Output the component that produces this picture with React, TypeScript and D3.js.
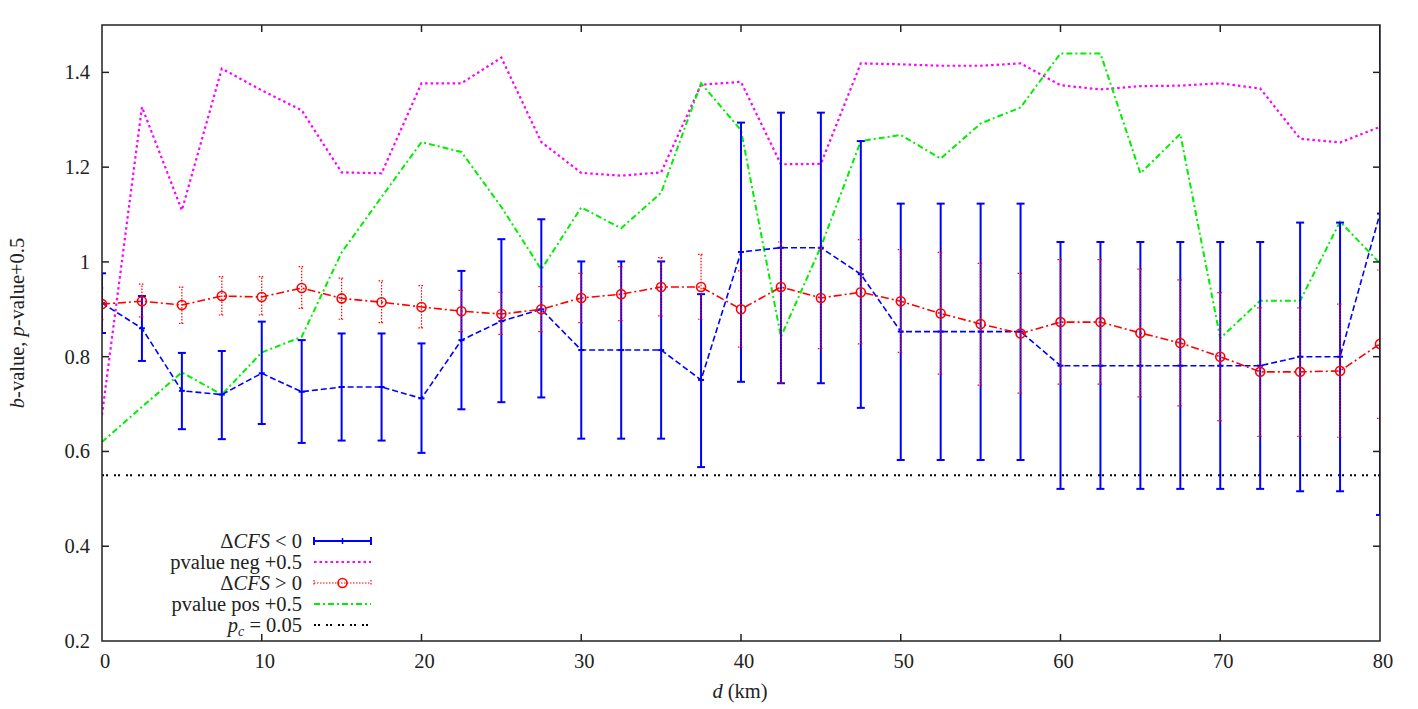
import { useEffect, useRef } from 'react';
import * as d3 from 'd3';

const W = 1418;
const H = 709;

// distance (km), one point every 2.5 km
const dist = d3.range(0, 80.01, 2.5);

// ΔCFS < 0 : b-value with lower / upper error
const negB = [0.913, 0.86, 0.728, 0.72, 0.765, 0.726, 0.736, 0.736, 0.712, 0.835, 0.875, 0.9, 0.814, 0.814, 0.814, 0.751, 1.021, 1.03, 1.03, 0.974, 0.853, 0.853, 0.853, 0.853, 0.781, 0.781, 0.781, 0.781, 0.781, 0.781, 0.8, 0.8, 1.102];
const negLo = [0.85, 0.791, 0.647, 0.626, 0.658, 0.618, 0.623, 0.623, 0.597, 0.689, 0.704, 0.714, 0.627, 0.627, 0.627, 0.567, 0.747, 0.744, 0.744, 0.692, 0.582, 0.582, 0.582, 0.582, 0.521, 0.521, 0.521, 0.521, 0.521, 0.521, 0.516, 0.516, 0.466];
const negHi = [0.976, 0.928, 0.808, 0.812, 0.874, 0.835, 0.849, 0.849, 0.828, 0.981, 1.048, 1.09, 1.001, 1.001, 1.001, 0.932, 1.294, 1.315, 1.315, 1.255, 1.123, 1.123, 1.123, 1.123, 1.042, 1.042, 1.042, 1.042, 1.042, 1.042, 1.083, 1.083, 1.738];

// ΔCFS > 0
const posB = [0.911, 0.917, 0.909, 0.928, 0.926, 0.945, 0.923, 0.915, 0.905, 0.896, 0.89, 0.9, 0.924, 0.932, 0.947, 0.947, 0.9, 0.947, 0.924, 0.936, 0.917, 0.891, 0.869, 0.849, 0.873, 0.873, 0.85, 0.829, 0.8, 0.768, 0.768, 0.77, 0.827];
const posLo = [0.878, 0.884, 0.87, 0.888, 0.888, 0.902, 0.879, 0.872, 0.861, 0.853, 0.847, 0.853, 0.872, 0.876, 0.886, 0.879, 0.82, 0.744, 0.817, 0.827, 0.809, 0.763, 0.74, 0.723, 0.742, 0.742, 0.715, 0.696, 0.665, 0.632, 0.632, 0.63, 0.67];
const posHi = [0.945, 0.953, 0.947, 0.969, 0.969, 0.99, 0.966, 0.96, 0.95, 0.94, 0.936, 0.948, 0.976, 0.99, 1.009, 1.016, 0.981, 1.042, 1.03, 1.047, 1.026, 1.02, 0.997, 0.976, 1.005, 1.005, 0.985, 0.962, 0.935, 0.903, 0.903, 0.911, 0.983];

// p-values shifted by +0.5
const pNeg = [0.677, 1.327, 1.109, 1.408, 1.362, 1.32, 1.189, 1.187, 1.377, 1.377, 1.431, 1.253, 1.188, 1.182, 1.189, 1.374, 1.38, 1.206, 1.207, 1.419, 1.417, 1.414, 1.414, 1.419, 1.373, 1.364, 1.371, 1.372, 1.377, 1.366, 1.26, 1.252, 1.285];
const pPos = [0.62, 0.694, 0.767, 0.72, 0.809, 0.842, 1.02, 1.137, 1.253, 1.232, 1.116, 0.984, 1.115, 1.071, 1.146, 1.377, 1.278, 0.842, 1.032, 1.255, 1.268, 1.218, 1.292, 1.326, 1.44, 1.44, 1.187, 1.27, 0.839, 0.918, 0.918, 1.085, 0.997];

const pCrit = 0.55;

const xTicks = [0, 10, 20, 30, 40, 50, 60, 70, 80];
const yTicks = [0.2, 0.4, 0.6, 0.8, 1, 1.2, 1.4];

const FONT = '"Liberation Serif", "DejaVu Serif", serif';
const FS = 20.5;

export default function App() {
  const ref = useRef<SVGSVGElement>(null);

  useEffect(() => {
    if (!ref.current) return;
    const svg = d3.select(ref.current);
    svg.selectAll('*').remove();

    const m = { left: 102, right: 1380, top: 25, bottom: 641 };
    const x = d3.scaleLinear().domain([0, 80]).range([m.left, m.right]);
    const y = d3.scaleLinear().domain([0.2, 1.5]).range([m.bottom, m.top]);

    svg.append('defs').append('clipPath').attr('id', 'plot')
      .append('rect').attr('x', m.left).attr('y', m.top)
      .attr('width', m.right - m.left).attr('height', m.bottom - m.top);

    const g = svg.append('g').attr('clip-path', 'url(#plot)');
    const idx = d3.range(dist.length);

    // critical p level
    g.append('line')
      .attr('x1', m.left).attr('x2', m.right)
      .attr('y1', y(pCrit)).attr('y2', y(pCrit))
      .attr('stroke', '#000').attr('stroke-width', 2)
      .attr('stroke-dasharray', '2,2,2,6');

    const line = (vals: number[]) =>
      d3.line<number>().x(i => x(dist[i])).y(i => y(vals[i]))(idx) as string;

    // p-value curves
    g.append('path').attr('d', line(pNeg)).attr('fill', 'none')
      .attr('stroke', '#ff00ff').attr('stroke-width', 2.2).attr('stroke-dasharray', '2.5,3');
    g.append('path').attr('d', line(pPos)).attr('fill', 'none')
      .attr('stroke', '#00ee00').attr('stroke-width', 2).attr('stroke-dasharray', '6,3,2,3');

    // blue error bars
    const cap = 4;
    const eb = g.append('g').attr('stroke', '#0000ff').attr('stroke-width', 2);
    idx.forEach(i => {
      const cx = x(dist[i]);
      eb.append('line').attr('x1', cx).attr('x2', cx).attr('y1', y(negLo[i])).attr('y2', y(negHi[i]));
      eb.append('line').attr('x1', cx - cap).attr('x2', cx + cap).attr('y1', y(negLo[i])).attr('y2', y(negLo[i]));
      eb.append('line').attr('x1', cx - cap).attr('x2', cx + cap).attr('y1', y(negHi[i])).attr('y2', y(negHi[i]));
      eb.append('line').attr('x1', cx - 3).attr('x2', cx + 3).attr('y1', y(negB[i])).attr('y2', y(negB[i]));
    });
    g.append('path').attr('d', line(negB)).attr('fill', 'none')
      .attr('stroke', '#0000ff').attr('stroke-width', 1.6).attr('stroke-dasharray', '6,3');

    // red error bars (dotted)
    const rb = g.append('g').attr('stroke', '#ff0000').attr('stroke-width', 1.2).attr('stroke-dasharray', '1.5,1.5');
    idx.forEach(i => {
      const cx = x(dist[i]);
      rb.append('line').attr('x1', cx).attr('x2', cx).attr('y1', y(posLo[i])).attr('y2', y(posHi[i]));
      rb.append('line').attr('x1', cx - 3).attr('x2', cx + 3).attr('y1', y(posLo[i])).attr('y2', y(posLo[i]));
      rb.append('line').attr('x1', cx - 3).attr('x2', cx + 3).attr('y1', y(posHi[i])).attr('y2', y(posHi[i]));
    });
    g.append('path').attr('d', line(posB)).attr('fill', 'none')
      .attr('stroke', '#ff0000').attr('stroke-width', 1.6).attr('stroke-dasharray', '8,3,2,3');
    g.append('g').selectAll('circle').data(idx).join('circle')
      .attr('cx', i => x(dist[i])).attr('cy', i => y(posB[i])).attr('r', 4.5)
      .attr('fill', 'none').attr('stroke', '#ff0000').attr('stroke-width', 1.6);

    // frame and ticks
    const ax = svg.append('g').attr('stroke', '#222').attr('stroke-width', 1.5);
    ax.append('rect').attr('x', m.left).attr('y', m.top)
      .attr('width', m.right - m.left).attr('height', m.bottom - m.top).attr('fill', 'none');
    xTicks.forEach(t => {
      if (t === 0 || t === 80) return;
      ax.append('line').attr('x1', x(t)).attr('x2', x(t)).attr('y1', m.bottom).attr('y2', m.bottom - 7);
      ax.append('line').attr('x1', x(t)).attr('x2', x(t)).attr('y1', m.top).attr('y2', m.top + 7);
    });
    yTicks.forEach(t => {
      if (t === 0.2) return;
      ax.append('line').attr('x1', m.left).attr('x2', m.left + 7).attr('y1', y(t)).attr('y2', y(t));
      ax.append('line').attr('x1', m.right).attr('x2', m.right - 7).attr('y1', y(t)).attr('y2', y(t));
    });

    const lab = svg.append('g').attr('font-family', FONT).attr('font-size', FS).attr('fill', '#222');
    xTicks.forEach(t => {
      lab.append('text').attr('x', x(t) + 3).attr('y', m.bottom + 27)
        .attr('text-anchor', 'middle').text(d3.format('d')(t));
    });
    yTicks.forEach(t => {
      lab.append('text').attr('x', m.left - 12).attr('y', y(t) + 7)
        .attr('text-anchor', 'end').text(t === 1 ? '1' : d3.format('.1f')(t));
    });

    // axis titles
    const xt = lab.append('text').attr('x', 740).attr('y', 698).attr('text-anchor', 'middle');
    xt.append('tspan').attr('font-style', 'italic').text('d');
    xt.append('tspan').text(' (km)');

    const yt = lab.append('text').attr('transform', 'translate(24,323) rotate(-90)')
      .attr('text-anchor', 'middle');
    yt.append('tspan').attr('font-style', 'italic').text('b');
    yt.append('tspan').text('-value, ');
    yt.append('tspan').attr('font-style', 'italic').text('p');
    yt.append('tspan').text('-value+0.5');

    // legend
    const lg = svg.append('g').attr('font-family', FONT).attr('font-size', FS).attr('fill', '#222');
    const rows = [541, 562, 583, 604, 625];
    const tx = 302, s0 = 314, s1 = 371;
    const txt = (r: number) => lg.append('text').attr('x', tx).attr('y', rows[r] + 7).attr('text-anchor', 'end');

    const t0 = txt(0);
    t0.append('tspan').text('Δ');
    t0.append('tspan').attr('font-style', 'italic').text('CFS');
    t0.append('tspan').text(' < 0');
    lg.append('line').attr('x1', s0).attr('x2', s1).attr('y1', rows[0]).attr('y2', rows[0]).attr('stroke', '#0000ff').attr('stroke-width', 2);
    [s0, s1].forEach(sx => lg.append('line').attr('x1', sx).attr('x2', sx).attr('y1', rows[0] - 4).attr('y2', rows[0] + 4).attr('stroke', '#0000ff').attr('stroke-width', 2));
    lg.append('line').attr('x1', (s0 + s1) / 2).attr('x2', (s0 + s1) / 2).attr('y1', rows[0] - 3).attr('y2', rows[0] + 3).attr('stroke', '#0000ff').attr('stroke-width', 1.5);

    txt(1).text('pvalue neg +0.5');
    lg.append('line').attr('x1', s0).attr('x2', s1).attr('y1', rows[1]).attr('y2', rows[1])
      .attr('stroke', '#ff00ff').attr('stroke-width', 2.2).attr('stroke-dasharray', '2.5,3');

    const t2 = txt(2);
    t2.append('tspan').text('Δ');
    t2.append('tspan').attr('font-style', 'italic').text('CFS');
    t2.append('tspan').text(' > 0');
    lg.append('line').attr('x1', s0).attr('x2', s1).attr('y1', rows[2]).attr('y2', rows[2])
      .attr('stroke', '#ff0000').attr('stroke-width', 1.2).attr('stroke-dasharray', '1.5,1.5');
    [s0, s1].forEach(sx => lg.append('line').attr('x1', sx).attr('x2', sx).attr('y1', rows[2] - 3).attr('y2', rows[2] + 3)
      .attr('stroke', '#ff0000').attr('stroke-width', 1.2).attr('stroke-dasharray', '1.5,1.5'));
    lg.append('circle').attr('cx', (s0 + s1) / 2).attr('cy', rows[2]).attr('r', 4.5)
      .attr('fill', 'none').attr('stroke', '#ff0000').attr('stroke-width', 1.6);

    txt(3).text('pvalue pos +0.5');
    lg.append('line').attr('x1', s0).attr('x2', s1).attr('y1', rows[3]).attr('y2', rows[3])
      .attr('stroke', '#00ee00').attr('stroke-width', 2).attr('stroke-dasharray', '6,3,2,3');

    const t4 = txt(4);
    t4.append('tspan').attr('font-style', 'italic').text('p');
    t4.append('tspan').attr('font-style', 'italic').attr('font-size', 14).attr('dy', 4).text('c');
    t4.append('tspan').attr('dy', -4).text(' = 0.05');
    lg.append('line').attr('x1', s0).attr('x2', s1).attr('y1', rows[4]).attr('y2', rows[4])
      .attr('stroke', '#000').attr('stroke-width', 2).attr('stroke-dasharray', '2,2,2,6');
  }, []);

  return (
    <svg ref={ref} width={W} height={H}
      style={{ position: 'absolute', left: 0, top: 0, background: '#fff' }} />
  );
}
